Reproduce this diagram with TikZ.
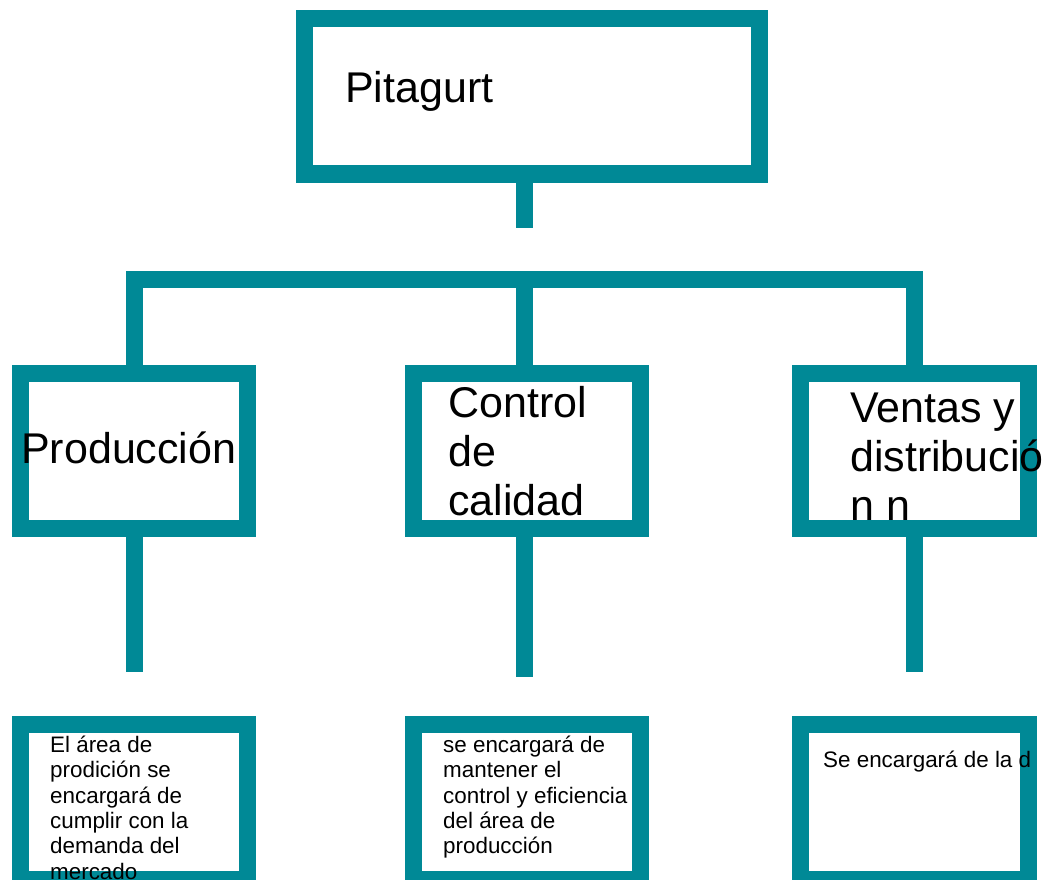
\documentclass[tikz,border=0pt]{standalone}
\usepackage{fontspec}
\setmainfont{Liberation Sans}
\definecolor{tealline}{RGB}{0,137,150}
\begin{document}
\begin{tikzpicture}[x=1pt,y=-1pt,
  box/.style={draw=tealline, line width=17pt, inner sep=0pt, outer sep=0pt, minimum width=#1, minimum height=155pt},
  box/.default=227pt,
  conn/.style={draw=tealline, line width=17pt, line join=miter},
  big/.style={font=\fontsize{43}{49}\selectfont, anchor=base west, inner sep=0pt},
  small/.style={font=\fontsize{22.4}{25.5}\selectfont, anchor=base west, inner sep=0pt}]
\fill[white] (0,0) rectangle (1047,880);
\clip (0,0) rectangle (1047,880);

% boxes
\node[box=455pt] (top) at (532,96.5) {};
\node[box] (prod) at (134,451) {};
\node[box] (ctrl) at (527,451) {};
\node[box=228pt] (vent) at (914.5,451) {};
\node[box] (prodd) at (134,802) {};
\node[box] (ctrld) at (527,802) {};
\node[box=228pt] (ventd) at (914.5,802) {};

% connectors
\coordinate (ts) at (524.5,228);
\coordinate (bl) at (134,279.5);
\coordinate (br) at (914.5,279.5);
\coordinate (bc) at (524.5,279.5);
\coordinate (ps) at (134,672);
\coordinate (cs) at (524.5,677);
\coordinate (vs) at (914.5,672);
\draw[conn] (top.south -| ts) -- (ts);
\draw[conn] (prod.north) -- (bl) -- (br) -- (vent.north);
\draw[conn] (bc) -- (bc |- ctrl.north);
\draw[conn] (prod.south) -- (ps);
\draw[conn] (ctrl.south -| cs) -- (cs);
\draw[conn] (vent.south) -- (vs);

% texts
\node[big] (t1) at (345,103) {Pitagurt};
\node[big] (t2) at (21,463) {Producción};
\node[big] (t3a) at (448,417) {Control};
\node[big] (t3b) at (448,466) {de};
\node[big] (t3c) at (448,515) {calidad};
\node[big] (t4a) at (850,422) {Ventas y};
\node[big] (t4b) at (850,471) {distribució};
\node[big] (t4c) at (850,520) {n n};

\node[small] (p1) at (50,752) {El área de};
\node[small] (p2) at (50,777.5) {prodición se};
\node[small] (p3) at (50,803) {encargará de};
\node[small] (p4) at (50,828) {cumplir con la};
\node[small] (p5) at (50,853.5) {demanda del};
\node[small] (p6) at (50,879) {mercado};

\node[small] (c1) at (443,752) {se encargará de};
\node[small] (c2) at (443,777.5) {mantener el};
\node[small] (c3) at (443,803) {control y eficiencia};
\node[small] (c4) at (443,828) {del área de};
\node[small] (c5) at (443,853.5) {producción};

\begin{scope}
\clip (0,0) rectangle (1037,880);
\node[small] (v1) at (823,767) {Se encargará de la d};
\end{scope}
\end{tikzpicture}
\end{document}
